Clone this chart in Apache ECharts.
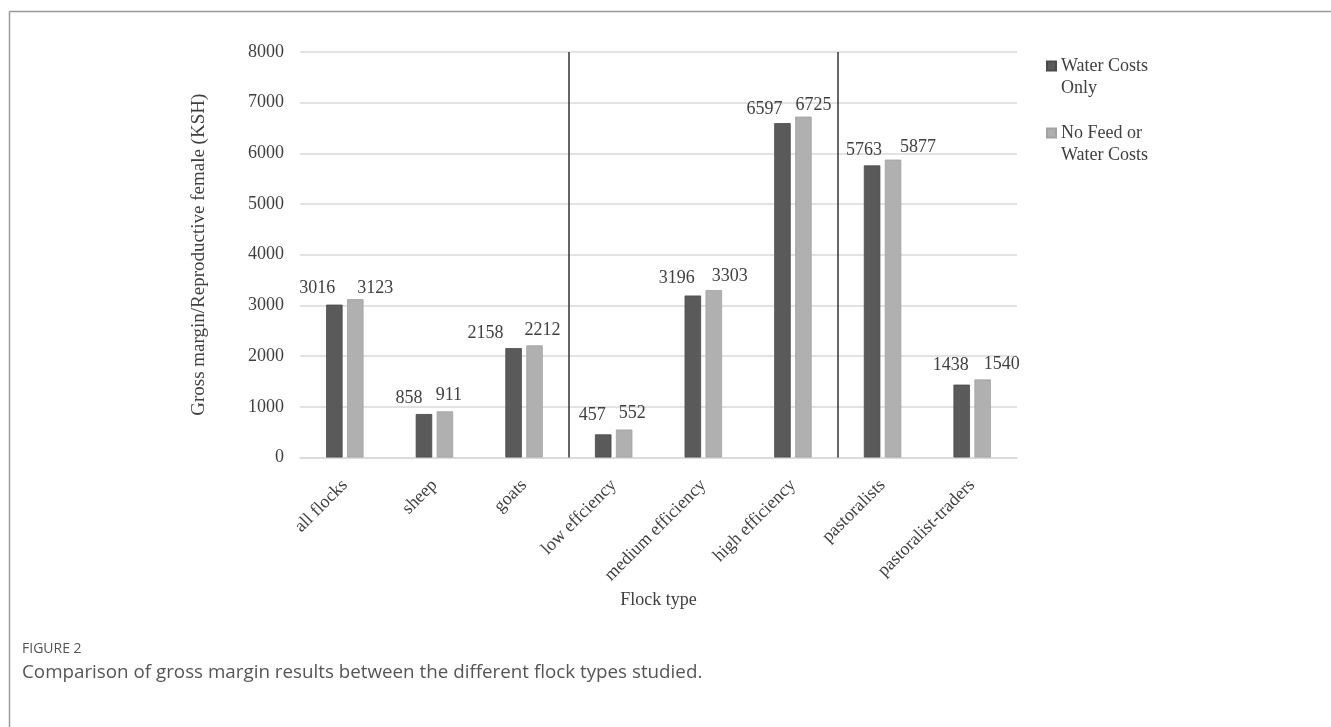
<!DOCTYPE html>
<html>
<head>
<meta charset="utf-8">
<script src="https://cdn.jsdelivr.net/npm/echarts@6/dist/echarts.min.js"></script>
<style>
html,body{margin:0;padding:0;background:#fff;}
#chart{width:1331px;height:727px;}
</style>
</head>
<body>
<div id="chart"></div>
<script>
// ---- data ----
var categories = ['all flocks', 'sheep', 'goats', 'low effciency', 'medium efficiency', 'high efficiency', 'pastoralists', 'pastoralist-traders'];
var waterCostsOnly = [3016, 858, 2158, 457, 3196, 6597, 5763, 1438];
var noFeedOrWater = [3123, 911, 2212, 552, 3303, 6725, 5877, 1540];
var seriesNames = ['Water Costs Only', 'No Feed or Water Costs'];
var legendLines = [' \nWater Costs\nOnly', ' \nNo Feed or\nWater Costs'];
var yTicks = [0, 1000, 2000, 3000, 4000, 5000, 6000, 7000, 8000];
var groupDividers = [3, 6];

// ---- label nudges (style only) ----
var darkLabelDx = [-17, -15, -28, -11, -16, -18, -8, -11];
var darkLabelDy = [-1, -1, 0, -4, -2, 1, 0, -4];
var lightLabelDx = [20, 4, 8, 8, 16, 10, 25, 19];
var lightLabelDy = [4, -1, 0, -1, 1, 4, 3, 0];

var serif = '"Liberation Serif", "Times New Roman", serif';

function withLabels(values, dx, dy) {
  return values.map(function (v, i) {
    return { value: v, label: { offset: [dx[i], dy[i]] } };
  });
}

var chart = echarts.init(document.getElementById('chart'), null, { renderer: 'canvas' });

var option = {
  backgroundColor: '#ffffff',
  animation: false,
  textStyle: { fontFamily: serif },
  grid: { left: 300, right: 314, top: 52, bottom: 269.5, containLabel: false },
  legend: {
    orient: 'vertical',
    left: 1041,
    top: 28,
    itemWidth: 9,
    itemHeight: 9,
    itemGap: 1,
    icon: 'rect',
    data: seriesNames,
    formatter: function (name) { return legendLines[seriesNames.indexOf(name)]; },
    textStyle: { fontFamily: serif, fontSize: 18, color: '#404040', lineHeight: 22 }
  },
  xAxis: [{
    type: 'category',
    data: categories,
    name: 'Flock type',
    nameLocation: 'middle',
    nameGap: 134,
    nameTextStyle: { fontFamily: serif, fontSize: 18, color: '#404040' },
    axisLine: { lineStyle: { color: '#d9d9d9', width: 1.5 } },
    axisTick: { show: false },
    axisLabel: { rotate: 45, margin: 25, fontFamily: serif, fontSize: 18, color: '#404040', interval: 0 }
  }, {
    type: 'value',
    min: 0,
    max: categories.length,
    show: false
  }],
  yAxis: {
    type: 'value',
    min: yTicks[0],
    max: yTicks[yTicks.length - 1],
    interval: yTicks[1] - yTicks[0],
    name: 'Gross margin/Reproductive female (KSH)',
    nameLocation: 'middle',
    nameGap: 91,
    nameTextStyle: { fontFamily: serif, fontSize: 19, color: '#404040' },
    axisLine: { show: false },
    axisTick: { show: false },
    axisLabel: { margin: 16, fontFamily: serif, fontSize: 18, color: '#404040', formatter: function (v) { return String(v); } },
    splitLine: { lineStyle: { color: '#d9d9d9', width: 1.5 } }
  },
  series: [{
    name: seriesNames[0],
    type: 'bar',
    barWidth: 16.5,
    barGap: '27%',
    itemStyle: { color: '#5a5a5a', borderColor: '#4a4a4a', borderWidth: 0.8 },
    label: { show: true, position: 'top', distance: 6, fontFamily: serif, fontSize: 18, color: '#404040' },
    data: withLabels(waterCostsOnly, darkLabelDx, darkLabelDy)
  }, {
    name: seriesNames[1],
    type: 'bar',
    barWidth: 16.5,
    barGap: '27%',
    itemStyle: { color: '#b0b0b0', borderColor: '#a2a2a2', borderWidth: 0.8 },
    label: { show: true, position: 'top', distance: 6, fontFamily: serif, fontSize: 18, color: '#404040' },
    data: withLabels(noFeedOrWater, lightLabelDx, lightLabelDy)
  }, {
    name: 'dividers',
    type: 'line',
    xAxisIndex: 1,
    yAxisIndex: 0,
    data: [],
    silent: true,
    markLine: {
      silent: true,
      symbol: 'none',
      label: { show: false },
      lineStyle: { color: '#333333', width: 1.5, type: 'solid' },
      data: groupDividers.map(function (d) { return { xAxis: d }; })
    }
  }],
  graphic: [
    { type: 'line', shape: { x1: 9.5, y1: 11.5, x2: 1331, y2: 11.5 }, style: { stroke: '#9a9a9a', lineWidth: 1.5 }, silent: true },
    { type: 'line', shape: { x1: 9.5, y1: 11.5, x2: 9.5, y2: 727 }, style: { stroke: '#9a9a9a', lineWidth: 1.5 }, silent: true },
    { type: 'text', left: 22, top: 642, style: { text: 'FIGURE 2', font: '14px "Open Sans", "Noto Sans", sans-serif', fill: '#555555' } },
    { type: 'text', left: 22, top: 663, style: { text: 'Comparison of gross margin results between the different flock types studied.', font: '18.8px "Open Sans", "Noto Sans", sans-serif', fill: '#555555' } }
  ]
};

chart.setOption(option);
</script>
</body>
</html>
